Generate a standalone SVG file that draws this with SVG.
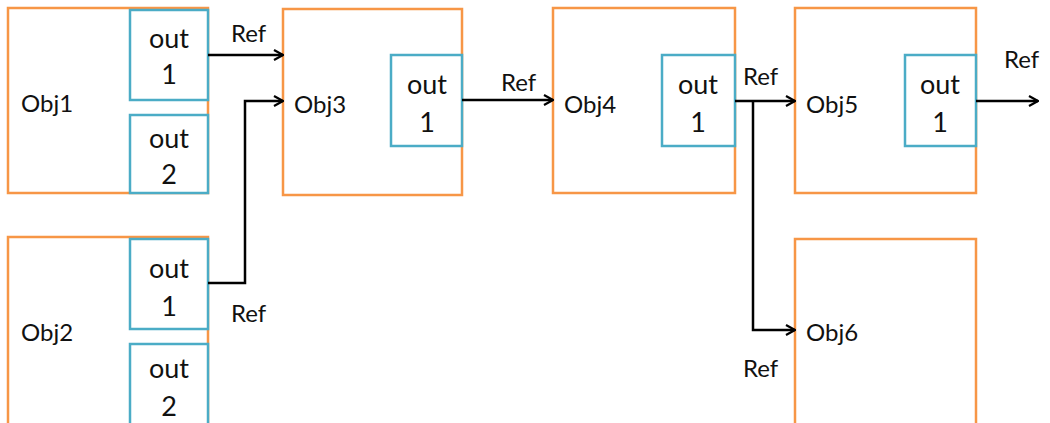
<svg xmlns="http://www.w3.org/2000/svg" width="1050" height="423" viewBox="0 0 1050 423">
  <defs>
    <marker id="arrow" viewBox="0 0 12 12" refX="11" refY="6" markerWidth="12" markerHeight="12" markerUnits="userSpaceOnUse" orient="auto">
      <path d="M2,1 L11,6 L2,11" fill="none" stroke="#000" stroke-width="2.2"/>
    </marker>
    <style>
      .obj { fill: #fff; stroke: #F79646; stroke-width: 2.5; }
      .port { fill: #fff; stroke: #4BACC6; stroke-width: 2.5; }
      .lbl { font-family: Lato, "Liberation Sans", sans-serif; font-size: 24px; fill: #111; }
      .plbl { font-family: Lato, "Liberation Sans", sans-serif; font-size: 27px; fill: #111; text-anchor: middle; }
      .ref { font-family: Lato, "Liberation Sans", sans-serif; font-size: 24px; fill: #111; }
      .conn { fill: none; stroke: #000; stroke-width: 2.5; marker-end: url(#arrow); }
    </style>
  </defs>

  <g id="obj1">
    <rect class="obj" x="8" y="8" width="200" height="185"/>
    <text class="lbl" x="21" y="112">Obj1</text>
    <g id="obj1-out1">
      <rect class="port" x="130" y="10" width="78" height="90"/>
      <text class="plbl" x="169" y="48">out</text>
      <text class="plbl" x="169" y="84">1</text>
    </g>
    <g id="obj1-out2">
      <rect class="port" x="130" y="115" width="78" height="78"/>
      <text class="plbl" x="169" y="148">out</text>
      <text class="plbl" x="169" y="184">2</text>
    </g>
  </g>

  <g id="obj2">
    <rect class="obj" x="8" y="237" width="200" height="200"/>
    <text class="lbl" x="21" y="341">Obj2</text>
    <g id="obj2-out1">
      <rect class="port" x="130" y="239" width="78" height="90"/>
      <text class="plbl" x="169" y="278">out</text>
      <text class="plbl" x="169" y="316">1</text>
    </g>
    <g id="obj2-out2">
      <rect class="port" x="130" y="344" width="78" height="90"/>
      <text class="plbl" x="169" y="378">out</text>
      <text class="plbl" x="169" y="416">2</text>
    </g>
  </g>

  <g id="obj3">
    <rect class="obj" x="283" y="9" width="179" height="186"/>
    <text class="lbl" x="294" y="113">Obj3</text>
    <g id="obj3-out1">
      <rect class="port" x="391" y="55" width="71" height="91"/>
      <text class="plbl" x="427" y="94">out</text>
      <text class="plbl" x="427" y="132">1</text>
    </g>
  </g>

  <g id="obj4">
    <rect class="obj" x="553" y="8" width="182" height="185"/>
    <text class="lbl" x="564" y="113">Obj4</text>
    <g id="obj4-out1">
      <rect class="port" x="662" y="55" width="73" height="91"/>
      <text class="plbl" x="698" y="94">out</text>
      <text class="plbl" x="698" y="132">1</text>
    </g>
  </g>

  <g id="obj5">
    <rect class="obj" x="795" y="8" width="181" height="185"/>
    <text class="lbl" x="806" y="113">Obj5</text>
    <g id="obj5-out1">
      <rect class="port" x="905" y="55" width="71" height="91"/>
      <text class="plbl" x="940" y="94">out</text>
      <text class="plbl" x="940" y="132">1</text>
    </g>
  </g>

  <g id="obj6">
    <rect class="obj" x="795" y="239" width="181" height="200"/>
    <text class="lbl" x="806" y="341">Obj6</text>
  </g>

  <g id="connectors">
    <path class="conn" d="M208,55 H283"/>
    <path class="conn" d="M208,283 H245 V101 H283"/>
    <path class="conn" d="M462,100 H553"/>
    <path class="conn" d="M735,101 H795"/>
    <path class="conn" d="M753,101 V330 H795"/>
    <path class="conn" d="M976,101 H1038"/>
    <text class="ref" x="231" y="42">Ref</text>
    <text class="ref" x="231" y="322">Ref</text>
    <text class="ref" x="501" y="91">Ref</text>
    <text class="ref" x="743" y="85">Ref</text>
    <text class="ref" x="1004" y="68">Ref</text>
    <text class="ref" x="743" y="377">Ref</text>
  </g>
</svg>
